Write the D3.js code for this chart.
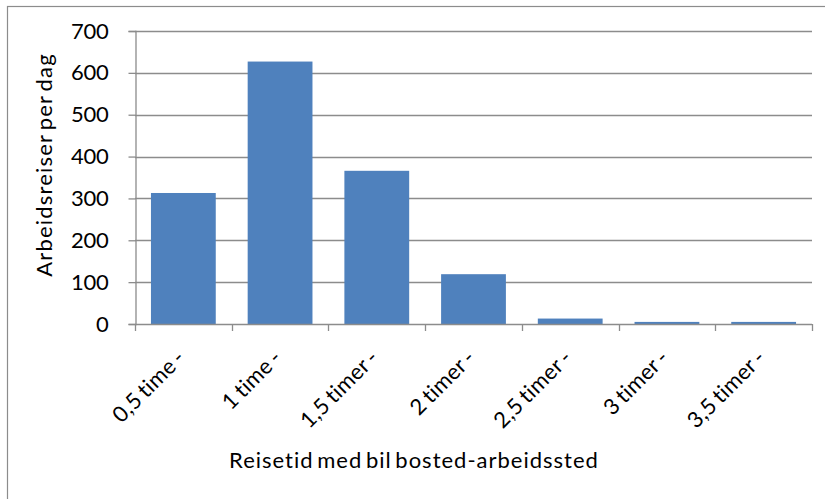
<!DOCTYPE html>
<html>
<head>
<meta charset="utf-8">
<script src="https://cdn.jsdelivr.net/npm/d3@7"></script>
<style>
  html, body { margin: 0; padding: 0; background: #fff; }
  svg text { font-family: Lato, "Open Sans", sans-serif; font-weight: 400; fill: #000; }
</style>
</head>
<body>
<svg id="chart" width="825" height="499"></svg>
<script>
// Daily commuting trips by car travel time
const categories = ["0,5 time -", "1 time -", "1,5 timer -", "2 timer -", "2,5 timer -", "3 timer -", "3,5 timer -"];
const trips = [313, 627, 366, 119, 13, 5, 5];
const yTicks = [0, 100, 200, 300, 400, 500, 600, 700];
const yTitle = "Arbeidsreiser per dag";
const xTitle = "Reisetid med bil bosted-arbeidssted";

const svg = d3.select("#chart");
const margin = { left: 135, right: 13, top: 31, bottom: 175 };
const W = 825, H = 499;
const gridColor = "#8c8c8c";

// outer chart frame (right and bottom edges fall outside the canvas)
svg.append("rect")
  .attr("x", 7.5).attr("y", 6.5)
  .attr("width", W + 10).attr("height", H + 10)
  .attr("fill", "#fff").attr("stroke", gridColor).attr("stroke-width", 1.2);

const x = d3.scaleBand()
  .domain(categories)
  .range([margin.left, W - margin.right])
  .paddingInner(0.33).paddingOuter(0.165);

const y = d3.scaleLinear()
  .domain([0, 700])
  .range([H - margin.bottom, margin.top]);

// horizontal gridlines
svg.append("g")
  .selectAll("line")
  .data(yTicks.filter(d => d > 0))
  .join("line")
  .attr("x1", margin.left).attr("x2", W - margin.right)
  .attr("y1", d => Math.round(y(d)) + 0.5).attr("y2", d => Math.round(y(d)) + 0.5)
  .attr("stroke", gridColor).attr("stroke-width", 1.3);

// bars
svg.append("g")
  .selectAll("rect")
  .data(trips)
  .join("rect")
  .attr("x", (d, i) => x(categories[i]))
  .attr("y", d => y(d))
  .attr("width", x.bandwidth())
  .attr("height", d => y(0) - y(d))
  .attr("fill", "#4f81bd");

// y axis
const yAxis = d3.axisLeft(y).tickValues(yTicks).tickSize(7).tickPadding(20).tickFormat(d3.format("d"));
const gy = svg.append("g")
  .attr("transform", `translate(${margin.left + 0.5},0)`)
  .call(yAxis);
gy.select(".domain").attr("stroke", gridColor).attr("stroke-width", 1.3);
gy.selectAll(".tick line").attr("stroke", gridColor).attr("stroke-width", 1.3);
gy.selectAll(".tick text")
  .attr("font-size", 22).attr("font-family", "Lato, sans-serif").attr("font-weight", 400)
  .attr("fill", "#000").attr("letter-spacing", -0.3);

// x axis with ticks on category boundaries
const xBoundary = d3.scaleLinear().domain([0, categories.length]).range([margin.left, W - margin.right]);
const gx = svg.append("g").attr("transform", `translate(0,${y(0)})`);
gx.append("line")
  .attr("x1", margin.left).attr("x2", W - margin.right)
  .attr("y1", 0.5).attr("y2", 0.5)
  .attr("stroke", gridColor).attr("stroke-width", 1.3);
gx.selectAll("line.tk")
  .data(d3.range(categories.length + 1))
  .join("line").attr("class", "tk")
  .attr("x1", d => Math.round(xBoundary(d)) + 0.5).attr("x2", d => Math.round(xBoundary(d)) + 0.5)
  .attr("y1", 0).attr("y2", 7)
  .attr("stroke", gridColor).attr("stroke-width", 1.3);
gx.selectAll("text")
  .data(categories)
  .join("text")
  .attr("transform", d => `translate(${x(d) + x.bandwidth() / 2 + 3},${35}) rotate(-45)`)
  .attr("text-anchor", "end")
  .attr("font-size", 22)
  .attr("letter-spacing", 0.3)
  .attr("word-spacing", -2)
  .text(d => d);

// axis titles
svg.append("text")
  .attr("transform", `translate(52,165) rotate(-90)`)
  .attr("text-anchor", "middle")
  .attr("font-size", 22)
  .attr("letter-spacing", 1.2)
  .attr("word-spacing", -3)
  .text(yTitle);

svg.append("text")
  .attr("x", 414)
  .attr("y", 468)
  .attr("text-anchor", "middle")
  .attr("font-size", 22)
  .attr("letter-spacing", 1)
  .attr("word-spacing", -3)
  .text(xTitle);
</script>
</body>
</html>
